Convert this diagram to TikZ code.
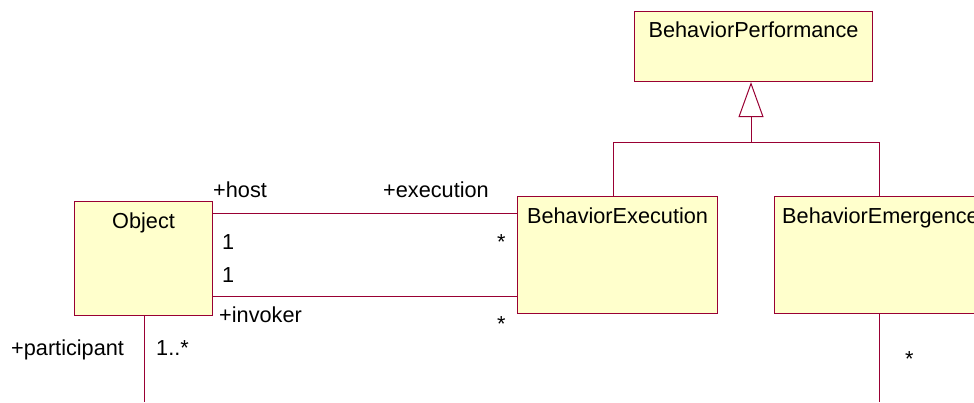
\documentclass[tikz,border=0pt]{standalone}
\usepackage{fontspec}
\setmainfont{Liberation Sans}
\usetikzlibrary{arrows.meta}
\definecolor{umlred}{RGB}{153,0,51}
\definecolor{umlfill}{RGB}{255,255,204}
\tikzset{
  umlbox/.style={draw=umlred, fill=umlfill, line width=1.1pt, rectangle, inner sep=0pt, anchor=north west},
  title/.style={anchor=base, inner sep=0pt, font=\fontsize{21.7}{25}\selectfont},
  lbl/.style={anchor=base west, inner sep=0pt, font=\fontsize{21.7}{25}\selectfont},
  star/.style={anchor=base west, inner sep=0pt, font=\fontsize{21.7}{25}\selectfont},
  conn/.style={draw=umlred, line width=1pt},
}
\begin{document}
\begin{tikzpicture}[x=1pt, y=-1pt]
\useasboundingbox (0,0) rectangle (974,402);
\clip (0,0) rectangle (974,402);
% boxes
\node[umlbox, minimum width=238pt, minimum height=70pt] (perf) at (634,11) {};
\node[umlbox, minimum width=200pt, minimum height=117pt] (exe) at (517,196) {};
\node[umlbox, minimum width=230pt, minimum height=117pt] (emg) at (774,196) {};
\node[umlbox, minimum width=138pt, minimum height=114pt] (obj) at (74,201) {};
% titles
\node[title] (tperf) at (perf.north |- 0,37) {BehaviorPerformance};
\node[title] (texe) at (exe.north |- 0,223) {BehaviorExecution};
\node[lbl] (temg) at (782,223) {BehaviorEmergence};
\node[title] (tobj) at (obj.north |- 0,228) {Object};
% generalization
\coordinate (junc) at (751,142);
\draw[conn] (exe.north -| 613,0) -- (613,142) -- (879,142) -- (emg.north -| 879,0);
\draw[conn, -{Triangle[open, length=35pt, width=25pt, line width=1pt]}] (junc) -- (perf.south -| junc);
% associations
\draw[conn] (obj.east |- 0,213) -- (exe.west |- 0,213);
\draw[conn] (obj.east |- 0,296.5) -- (exe.west |- 0,296.5);
\coordinate (objdown) at (144,402);
\coordinate (emgdown) at (879,402);
\draw[conn] (obj.south -| objdown) -- (objdown);
\draw[conn] (emg.south -| emgdown) -- (emgdown);
% labels
\node[lbl] (lhost) at (213,197) {+host};
\node[lbl] (lexec) at (383,197) {+execution};
\node[lbl] (l1a) at (222,249) {1};
\node[lbl] (l1b) at (222,282) {1};
\node[star] (s1) at (497,249) {*};
\node[lbl] (linv) at (219,322) {+invoker};
\node[star] (s2) at (497,331) {*};
\node[lbl] (lpart) at (11,355) {+participant};
\node[lbl] (lmult) at (156,355) {1..*};
\node[star] (s3) at (905,366) {*};
\end{tikzpicture}
\end{document}
